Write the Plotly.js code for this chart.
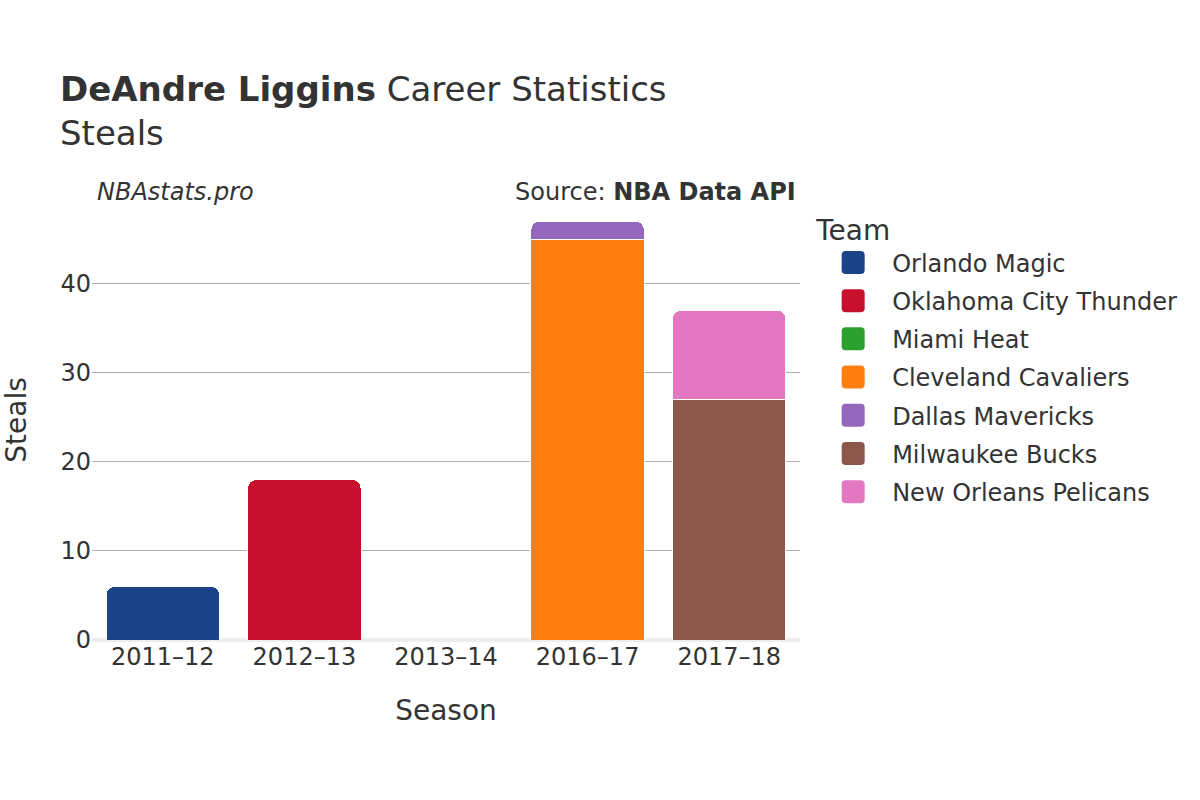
<!DOCTYPE html>
<html>
<head>
<meta charset="utf-8">
<script src="https://cdn.plot.ly/plotly-3.0.1.min.js"></script>
<style>html,body{margin:0;padding:0;background:#fff;}#chart{width:1200px;height:800px;}</style>
</head>
<body>
<div id="chart"></div>
<script>
var seasons = ["2011–12", "2012–13", "2013–14", "2016–17", "2017–18"];
var teams = ["Orlando Magic", "Oklahoma City Thunder", "Miami Heat", "Cleveland Cavaliers", "Dallas Mavericks", "Milwaukee Bucks", "New Orleans Pelicans"];
var teamColors = ["#1a4389", "#c8102e", "#2ca02c", "#ff7f0e", "#9467bd", "#8c564b", "#e377c2"];
var teamSeasons = [["2011–12"], ["2012–13"], ["2013–14"], ["2016–17"], ["2016–17"], ["2017–18"], ["2017–18"]];
var teamSteals = [[6], [18], [0], [45], [2], [27], [10]];

var font = "DejaVu Sans, sans-serif";
var traces = teams.map(function (t, i) {
  return {
    type: "bar",
    name: t,
    legendgroup: "g" + i,
    x: teamSeasons[i],
    y: teamSteals[i],
    marker: { color: teamColors[i], line: { color: "#ffffff", width: 1 } }
  };
});

var layout = {
  width: 1200, height: 800,
  paper_bgcolor: "#fff", plot_bgcolor: "#fff",
  font: { family: font, color: "#333", size: 24 },
  barmode: "stack",
  bargap: 0.2,
  barcornerradius: 8,
  margin: { l: 92, r: 400, t: 200, b: 160 },
  title: {
    text: "<b>DeAndre Liggins</b> Career Statistics<br>Steals",
    font: { family: font, size: 34, color: "#333" },
    x: 0.05, xanchor: "left", y: 0.874, yanchor: "top"
  },
  xaxis: {
    type: "category",
    categoryorder: "array", categoryarray: seasons,
    title: { text: "Season", font: { size: 28 }, standoff: 30 },
    tickfont: { size: 24 },
    showgrid: false
  },
  yaxis: {
    title: { text: "Steals", font: { size: 28 }, standoff: 30 },
    range: [0, 49.4],
    dtick: 10,
    tickfont: { size: 24 },
    gridcolor: "#b0b0b0",
    zeroline: true, zerolinecolor: "#eeeeee", zerolinewidth: 4
  },
  legend: {
    title: { text: "Team", font: { size: 28 } },
    font: { size: 24 },
    x: 1.02, xanchor: "left", y: 0.991, yanchor: "top",
    traceorder: "grouped",
    itemwidth: 68,
    tracegroupgap: 4
  },
  annotations: [
    { text: "<i>NBAstats.pro</i>", xref: "paper", yref: "paper", x: 0.0, y: 1.0, xanchor: "left", yanchor: "bottom", xshift: 3, yshift: -8, showarrow: false, font: { size: 24, color: "#333" } },
    { text: "Source: <b>NBA Data API</b>", xref: "paper", yref: "paper", x: 1.0, y: 1.0, xanchor: "right", yanchor: "bottom", showarrow: false, xshift: -2, yshift: -8, font: { size: 24, color: "#333" } }
  ]
};

Plotly.newPlot("chart", traces, layout, { displayModeBar: false }).then(function (gd) {
  var paths = gd.querySelectorAll(".legend .legendpoints path");
  paths.forEach(function (p) {
    p.setAttribute("d", "M-7.5,-11.5H7.5A4,4 0 0 1 11.5,-7.5V7.5A4,4 0 0 1 7.5,11.5H-7.5A4,4 0 0 1 -11.5,7.5V-7.5A4,4 0 0 1 -7.5,-11.5Z");
    p.style.strokeWidth = "0px";
  });
});
</script>
</body>
</html>
